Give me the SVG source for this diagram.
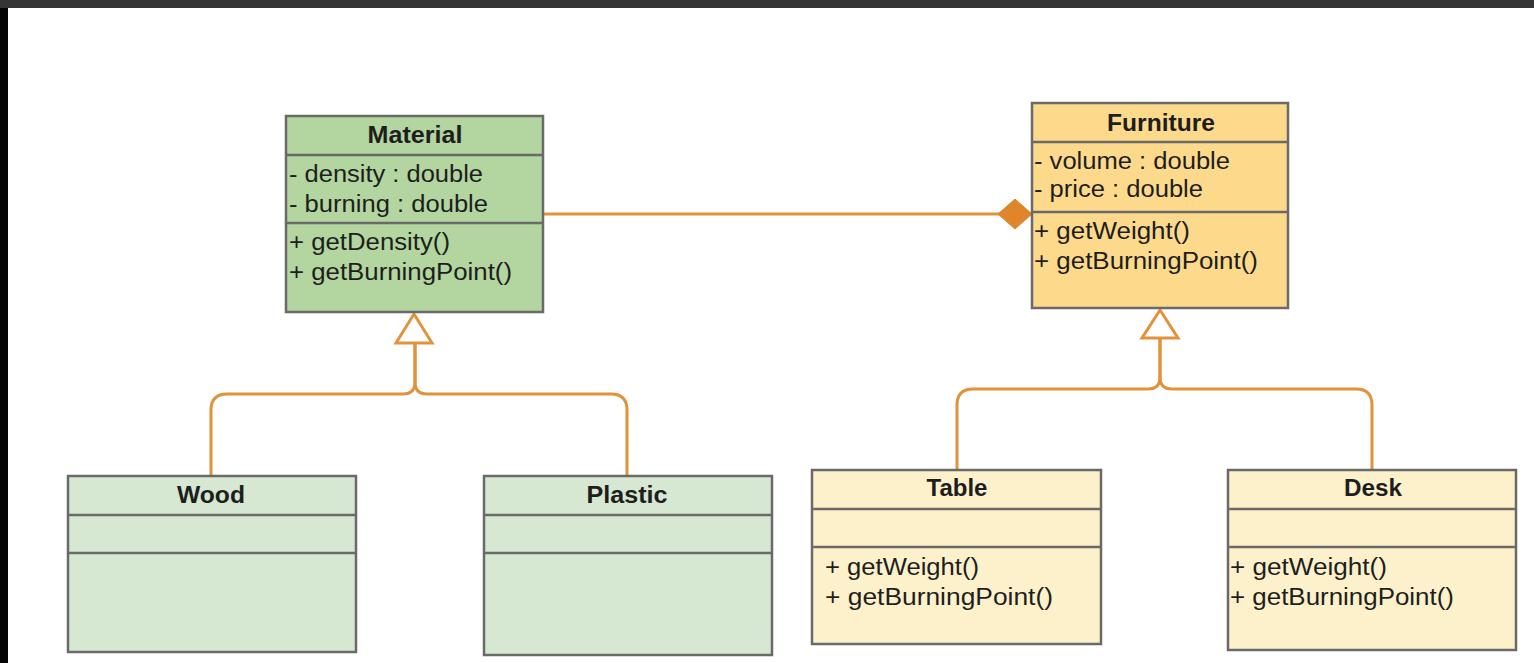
<svg xmlns="http://www.w3.org/2000/svg" width="1534" height="663" viewBox="0 0 1534 663">
<defs>
<style>
.box{stroke:#6a6a6a;stroke-width:2.5}
.div{stroke:#6a6a6a;stroke-width:2.5}
.g1{fill:#b3d59f}
.g2{fill:#d6e8d2}
.y1{fill:#fdda8b}
.y2{fill:#fdf1cb}
text{font-family:"Liberation Sans",Arial,sans-serif;font-size:23px;fill:#1e1e1e}
.t{font-weight:bold;text-anchor:middle}
.con{fill:none;stroke:#e2923a;stroke-width:3}
.tri{fill:#ffffff;stroke:#e2923a;stroke-width:3;stroke-linejoin:miter}
.dia{fill:#e0862a;stroke:#e0862a;stroke-width:1}
</style>
</defs>
<rect x="0" y="0" width="1534" height="663" fill="#ffffff"/>
<rect x="0" y="0" width="1534" height="8" fill="#353535"/>
<rect x="0" y="8" width="8" height="655" fill="#050505"/>

<g id="connectors">
<line class="con" x1="543" y1="214" x2="1000" y2="214"/>
<polygon class="dia" points="998,214 1015,199 1032,214 1015,229"/>
<path class="con" d="M211 476 V410 Q211 394 227 394 H403 Q415 394 415 382 V343"/>
<path class="con" d="M627 476 V410 Q627 394 611 394 H427 Q415 394 415 382 V343"/>
<polygon class="tri" points="414,314 396,343 432,343"/>
<path class="con" d="M957 470 V405 Q957 389 973 389 H1148 Q1160 389 1160 377 V338"/>
<path class="con" d="M1372 470 V405 Q1372 389 1356 389 H1172 Q1160 389 1160 377 V338"/>
<polygon class="tri" points="1160,310 1142,338 1178,338"/>
</g>

<g id="Material">
<rect class="box g1" x="286" y="116" width="257" height="196"/>
<line class="div" x1="286" y1="155" x2="543" y2="155"/>
<line class="div" x1="286" y1="223" x2="543" y2="223"/>
<text class="t" x="415" y="143" textLength="95" lengthAdjust="spacingAndGlyphs">Material</text>
<text x="289" y="182" textLength="194" lengthAdjust="spacingAndGlyphs">- density : double</text>
<text x="289" y="212" textLength="199" lengthAdjust="spacingAndGlyphs">- burning : double</text>
<text x="289" y="250" textLength="161" lengthAdjust="spacingAndGlyphs">+ getDensity()</text>
<text x="289" y="280" textLength="223" lengthAdjust="spacingAndGlyphs">+ getBurningPoint()</text>
</g>

<g id="Furniture">
<rect class="box y1" x="1032" y="103" width="256" height="205"/>
<line class="div" x1="1032" y1="142" x2="1288" y2="142"/>
<line class="div" x1="1032" y1="212" x2="1288" y2="212"/>
<text class="t" x="1161" y="131" textLength="108" lengthAdjust="spacingAndGlyphs">Furniture</text>
<text x="1034" y="169" textLength="196" lengthAdjust="spacingAndGlyphs">- volume : double</text>
<text x="1034" y="197" textLength="169" lengthAdjust="spacingAndGlyphs">- price : double</text>
<text x="1034" y="239" textLength="156" lengthAdjust="spacingAndGlyphs">+ getWeight()</text>
<text x="1034" y="269" textLength="224" lengthAdjust="spacingAndGlyphs">+ getBurningPoint()</text>
</g>

<g id="Wood">
<rect class="box g2" x="68" y="476" width="288" height="176"/>
<line class="div" x1="68" y1="515" x2="356" y2="515"/>
<line class="div" x1="68" y1="553" x2="356" y2="553"/>
<text class="t" x="211" y="503" textLength="68" lengthAdjust="spacingAndGlyphs">Wood</text>
</g>

<g id="Plastic">
<rect class="box g2" x="484" y="476" width="288" height="179"/>
<line class="div" x1="484" y1="515" x2="772" y2="515"/>
<line class="div" x1="484" y1="553" x2="772" y2="553"/>
<text class="t" x="627" y="503" textLength="81" lengthAdjust="spacingAndGlyphs">Plastic</text>
</g>

<g id="Table">
<rect class="box y2" x="812" y="470" width="289" height="174"/>
<line class="div" x1="812" y1="509" x2="1101" y2="509"/>
<line class="div" x1="812" y1="547" x2="1101" y2="547"/>
<text class="t" x="957" y="496" textLength="61" lengthAdjust="spacingAndGlyphs">Table</text>
<text x="825" y="575" textLength="154" lengthAdjust="spacingAndGlyphs">+ getWeight()</text>
<text x="825" y="605" textLength="228" lengthAdjust="spacingAndGlyphs">+ getBurningPoint()</text>
</g>

<g id="Desk">
<rect class="box y2" x="1228" y="470" width="288" height="180"/>
<line class="div" x1="1228" y1="509" x2="1516" y2="509"/>
<line class="div" x1="1228" y1="547" x2="1516" y2="547"/>
<text class="t" x="1373" y="496" textLength="58" lengthAdjust="spacingAndGlyphs">Desk</text>
<text x="1230" y="575" textLength="157" lengthAdjust="spacingAndGlyphs">+ getWeight()</text>
<text x="1230" y="605" textLength="224" lengthAdjust="spacingAndGlyphs">+ getBurningPoint()</text>
</g>
</svg>
